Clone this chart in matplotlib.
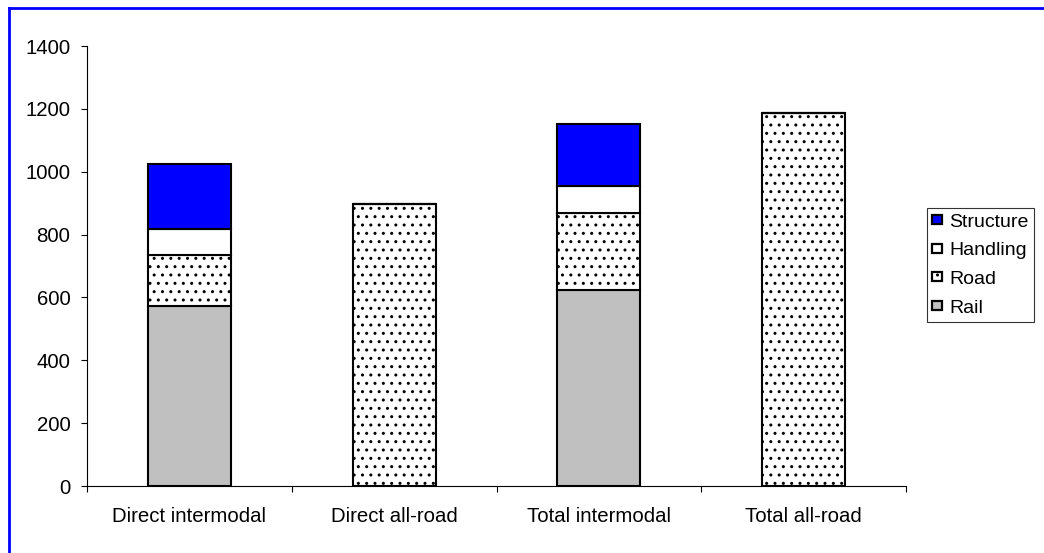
import matplotlib
matplotlib.use("Agg")
import matplotlib.pyplot as plt
from matplotlib.lines import Line2D
import numpy as np

# Cost breakdown per transport option
categories = ["Direct intermodal", "Direct all-road", "Total intermodal", "Total all-road"]
rail = [574, 0, 624, 0]
road = [160, 896, 245, 1187]
handling = [83, 0, 86, 0]
structure = [207, 0, 198, 0]
y_ticks = [0, 200, 400, 600, 800, 1000, 1200, 1400]

plt.rcParams["font.family"] = ["Liberation Sans", "DejaVu Sans"]
plt.rcParams["hatch.linewidth"] = 1.0
plt.rcParams["hatch.color"] = "black"

W, H = 1044, 553
FS = 14.7
fig = plt.figure(figsize=(W / 100, H / 100), dpi=100)
fig.patch.set_facecolor("white")
ax = fig.add_axes([87 / W, 1 - 486 / H, (906 - 87) / W, (486 - 46) / H])

x = np.arange(len(categories))
width = 0.405
edge = dict(edgecolor="black", linewidth=1.5)

base = np.zeros(len(categories))
b_rail = ax.bar(x, rail, width, bottom=base, color="#C0C0C0", label="Rail", **edge)
base = base + np.array(rail)
b_road = ax.bar(x, road, width, bottom=base, color="white", hatch="..", label="Road", **edge)
base = base + np.array(road)
b_hand = ax.bar(x, handling, width, bottom=base, color="white", label="Handling", **edge)
base = base + np.array(handling)
b_struct = ax.bar(x, structure, width, bottom=base, color="#0000FF", label="Structure", **edge)

ax.set_xlim(-0.5, len(categories) - 0.5)
ax.set_ylim(0, 1400)
ax.set_yticks(y_ticks)
ax.set_yticklabels([str(v) for v in y_ticks], fontsize=FS)

# category boundaries carry the tick marks, centres carry the labels
ax.set_xticks(np.arange(len(categories) + 1) - 0.5)
ax.set_xticklabels([""] * (len(categories) + 1))
ax.set_xticks(x, minor=True)
ax.set_xticklabels(categories, minor=True, fontsize=FS)
ax.tick_params(axis="x", which="minor", length=0, pad=15)
ax.tick_params(axis="x", which="major", direction="out", length=4, width=0.8)
ax.tick_params(axis="y", direction="out", length=4, width=0.8, pad=8)

for side in ("top", "right"):
    ax.spines[side].set_visible(False)
for side in ("left", "bottom"):
    ax.spines[side].set_linewidth(0.8)
    ax.spines[side].set_color("black")

leg = ax.legend(
    handles=[b_struct, b_hand, b_road, b_rail],
    labels=["Structure", "Handling", "Road", "Rail"],
    loc="center left",
    bbox_to_anchor=(927 / W, 1 - 265 / H),
    bbox_transform=fig.transFigure,
    borderaxespad=0,
    fontsize=14,
    frameon=True,
    fancybox=False,
    handlelength=0.5,
    handleheight=0.35,
    handletextpad=0.35,
    labelspacing=0.6,
    borderpad=0.28,
)
leg.get_frame().set_edgecolor("black")
leg.get_frame().set_linewidth(0.8)
for h in leg.legend_handles:
    h.set_linewidth(1.6)

# blue outer frame
fig.add_artist(Line2D([8.5 / W, 1.0], [1 - 7.5 / H, 1 - 7.5 / H],
                      transform=fig.transFigure, color="#0000FF", linewidth=2))
fig.add_artist(Line2D([8.5 / W, 8.5 / W], [1 - 7.5 / H, 0.0],
                      transform=fig.transFigure, color="#0000FF", linewidth=2))

fig.savefig("out.png", dpi=100, facecolor="white")
